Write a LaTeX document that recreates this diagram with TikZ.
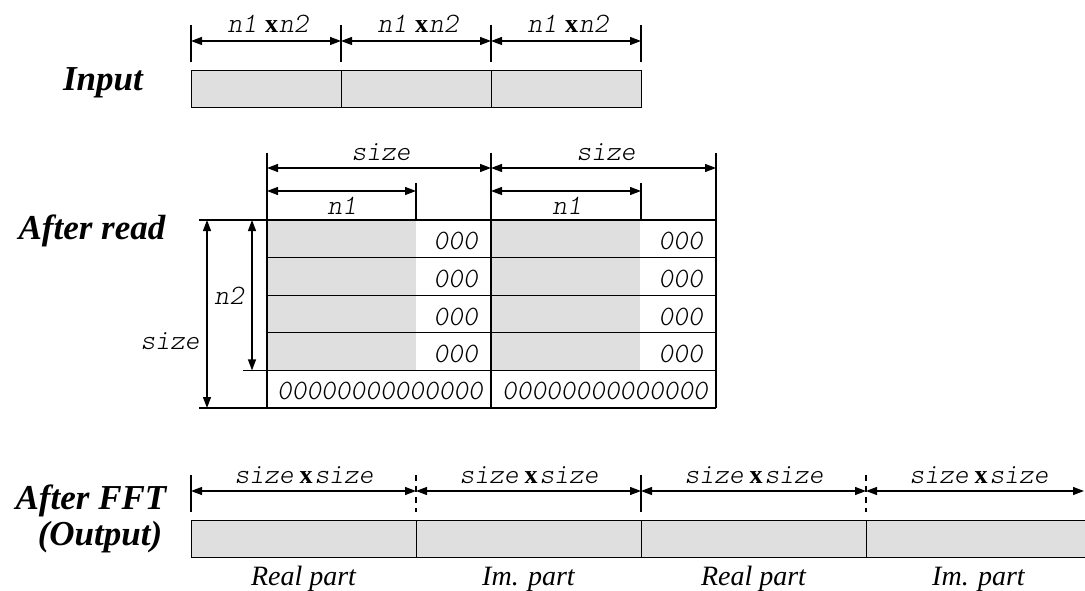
\documentclass[tikz,border=0pt]{standalone}
\usepackage{fontspec}
\setmainfont{Liberation Serif}
\newfontfamily\monolight[Extension=.otf, UprightFont=*-regular, ItalicFont=*-oblique]{lmmonolt10}
\usetikzlibrary{arrows.meta}
\tikzset{
  dim/.style={line width=1.2pt, {Triangle[length=11pt,width=8pt]}-{Triangle[length=11pt,width=8pt]}},
  tickline/.style={line width=1.2pt},
  dtick/.style={line width=1.2pt, dash pattern=on 6pt off 5pt},
  cell/.style={draw, line width=1.3pt, fill=gray!25, inner sep=0pt, anchor=north west},
  gridline/.style={line width=1.3pt},
  lbl/.style={font=\fontsize{28}{28}\selectfont\monolight\itshape, inner sep=0pt},
  ttl/.style={font=\fontsize{35}{35}\selectfont\bfseries\itshape, inner sep=0pt, anchor=base},
  capt/.style={font=\fontsize{28}{28}\selectfont\itshape, inner sep=0pt, anchor=base},
}
\newcommand{\bx}{{\rmfamily\upshape\bfseries\fontsize{26}{26}\selectfont x}}
\begin{document}
\begin{tikzpicture}[x=1pt,y=-1pt]
\useasboundingbox (0,0) rectangle (1085,591);
\clip (0,0) rectangle (1085,591);

% ---------- Input ----------
\node[ttl] (tin) at (103,91) {Input};
\foreach \i/\a in {1/191,2/341,3/491}
  \node[cell, minimum width=150pt, minimum height=37pt] (in\i) at (\a,70) {};
\foreach \i/\a in {0/191,1/341,2/491,3/641}{
  \coordinate (it\i) at (\a,25);
  \coordinate (ib\i) at (\a,62);
  \coordinate (ia\i) at (\a,41);
  \draw[tickline] (it\i) -- (ib\i);
}
\foreach \i/\j in {0/1,1/2,2/3}
  \draw[dim] (ia\i) -- (ia\j);
\foreach \i/\x in {1/268,2/418,3/568}
  \node[lbl] (inl\i) at (\x,24) {n1\hspace{8pt}\bx\hspace{1pt}n2};

% ---------- After read ----------
\node[ttl] (tread) at (92,239) {After read};
\foreach \c/\x in {1/267,2/491}{
  \fill[gray!25] (\x,220) rectangle ++(149,150.4);
}
\foreach \r/\y in {0/220,1/257.6,2/295.2,3/332.8,4/370.4,5/408}
  \coordinate (row\r) at (267,\y);
\foreach \r/\y in {0/220,1/257.6,2/295.2,3/332.8,4/370.4,5/408}
  \draw[gridline] (267,\y) -- (716,\y);
\foreach \x in {267,491,716}
  \draw[gridline] (\x,220) -- (\x,408);
% zero padding text
\foreach \y [count=\k] in {241.3,278.9,316.5,354.1}{
  \node[lbl, anchor=east] (za\k) at (478,\y) {000};
  \node[lbl, anchor=east] (zb\k) at (703,\y) {000};
}
\node[lbl] (zra) at (380,391) {00000000000000};
\node[lbl] (zrb) at (605,391) {00000000000000};
% left dimension
\coordinate (lt) at (199,220);
\coordinate (lm) at (243,370.4);
\coordinate (lb) at (199,408);
\draw[gridline] (lt) -- (row0);
\draw[gridline] (lm) -- (row4);
\draw[gridline] (lb) -- (row5);
\coordinate (sa1) at (207,220);
\coordinate (sa2) at (207,408);
\coordinate (na1) at (252,220);
\coordinate (na2) at (252,370.4);
\draw[dim] (sa1) -- (sa2);
\draw[dim] (na1) -- (na2);
\node[lbl] (lsize) at (170,341) {size};
\node[lbl] (ln2) at (229,296) {n2};
% top dimensions
\foreach \i/\x in {0/267,1/491,2/716}{
  \coordinate (st\i) at (\x,153);
  \coordinate (sb\i) at (\x,220);
  \coordinate (sm\i) at (\x,168);
  \draw[tickline] (st\i) -- (sb\i);
}
\foreach \i/\x in {0/416,1/641}{
  \coordinate (nt\i) at (\x,183);
  \coordinate (nb\i) at (\x,220);
  \draw[tickline] (nt\i) -- (nb\i);
}
\coordinate (nl0) at (267,191);
\coordinate (nr0) at (416,191);
\coordinate (nl1) at (491,191);
\coordinate (nr1) at (641,191);
\draw[dim] (sm0) -- (sm1);
\draw[dim] (sm1) -- (sm2);
\draw[dim] (nl0) -- (nr0);
\draw[dim] (nl1) -- (nr1);
\node[lbl] (ts1) at (381,152) {size};
\node[lbl] (ts2) at (606,152) {size};
\node[lbl] (tn1) at (342,206) {n1};
\node[lbl] (tn2) at (567,206) {n1};

% ---------- After FFT ----------
\node[ttl] (tfft) at (91,509) {After FFT};
\node[ttl] (tout) at (100,545) {(Output)};
\foreach \i/\a in {1/191,2/416,3/641,4/866}
  \node[cell, minimum width=225pt, minimum height=37pt] (out\i) at (\a,520) {};
\foreach \i/\x in {0/191,1/416,2/641,3/866,4/1084}{
  \coordinate (ot\i) at (\x,475);
  \coordinate (ob\i) at (\x,512);
  \coordinate (oa\i) at (\x,491);
}
\draw[tickline] (ot0) -- (ob0);
\draw[tickline] (ot2) -- (ob2);
\draw[dtick] (ot1) -- (ob1);
\draw[dtick] (ot3) -- (ob3);
\foreach \i/\j in {0/1,1/2,2/3,3/4}
  \draw[dim] (oa\i) -- (oa\j);
\foreach \i/\x in {1/304,2/529,3/754,4/979}
  \node[lbl] (osl\i) at (\x,475) {size\hspace{6pt}\bx\hspace{2pt}size};
\node[capt] (c1) at (303.5,585) {Real part};
\node[capt] (c2) at (528.5,585) {Im. part};
\node[capt] (c3) at (753.5,585) {Real part};
\node[capt] (c4) at (978.5,585) {Im. part};
\end{tikzpicture}
\end{document}
